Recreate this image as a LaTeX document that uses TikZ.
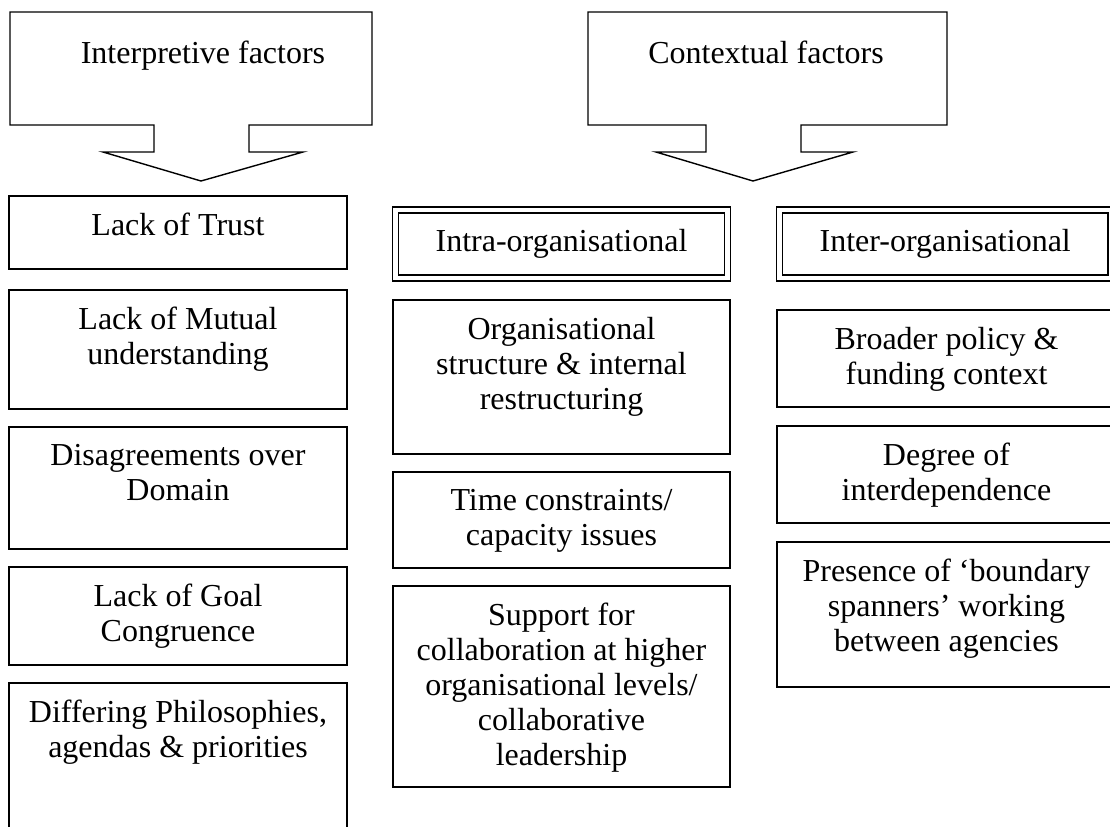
\documentclass[tikz,border=0pt]{standalone}
\usepackage{fontspec}
\setmainfont{Liberation Serif}
\usetikzlibrary{positioning,fit}

\begin{document}
\begin{tikzpicture}[
    x=0.5pt, y=-0.5pt,
    callout/.style={draw, line width=0.7pt, line join=miter},
    factor/.style={draw, line width=1.2pt, inner sep=0pt},
    level/.style={draw, line width=0.6pt, double, double distance=2.4pt, inner sep=0pt},
    boxtext/.style={align=center, inner sep=0pt, font=\fontsize{16}{17.5}\selectfont}
]
\useasboundingbox (0,0) rectangle (1110,826);
\clip (0,0) rectangle (1110,826);

% block arrows at the top
\draw[callout] (10,12) -- (372,12) -- (372,125) -- (249,125) -- (249,152) -- (303,152)
    -- (201,181) -- (103,152) -- (154,152) -- (154,125) -- (10,125) -- cycle;
\draw[callout] (588,12) -- (947,12) -- (947,125) -- (801,125) -- (801,152) -- (853,152)
    -- (753,181) -- (656,152) -- (706,152) -- (706,125) -- (588,125) -- cycle;
\node[boxtext, anchor=base] (interp) at (203,63) {Interpretive factors};
\node[boxtext, anchor=base] (context) at (766,63) {Contextual factors};

% interpretive column
\node[factor, fit={(9,196) (347,269)}] (trust) {};
\node[factor, fit={(9,290) (347,409)}] (mutual) {};
\node[factor, fit={(9,427) (347,549)}] (domain) {};
\node[factor, fit={(9,567) (347,665)}] (goal) {};
\node[factor, fit={(9,683) (347,870)}] (philo) {};

\node[boxtext, below=9pt of trust.north] (trusttxt) {Lack of Trust};
\node[boxtext, below=9pt of mutual.north] (mutualtxt) {Lack of Mutual\\understanding};
\node[boxtext, below=9pt of domain.north] (domaintxt) {Disagreements over\\Domain};
\node[boxtext, below=9pt of goal.north] (goaltxt) {Lack of Goal\\Congruence};
\node[boxtext, below=9pt of philo.north] (philotxt) {Differing Philosophies,\\agendas \& priorities};

% contextual: intra-organisational
\node[level, fit={(395.5,210) (727.5,278)}] (intra) {};
\node[boxtext] at (intra) {Intra-organisational};
\node[factor, fit={(393,300) (730,454)}] (struct) {};
\node[factor, fit={(393,472) (730,568)}] (time) {};
\node[factor, fit={(393,586) (730,787)}] (support) {};

\node[boxtext, below=9pt of struct.north] (structtxt) {Organisational\\structure \& internal\\restructuring};
\node[boxtext, below=9pt of time.north] (timetxt) {Time constraints/\\capacity issues};
\node[boxtext, below=9pt of support.north] (supporttxt) {Support for\\collaboration at higher\\organisational levels/\\collaborative\\leadership};

% contextual: inter-organisational
\node[level, fit={(779.5,210) (1111,278)}] (inter) {};
\node[boxtext] at (inter) {Inter-organisational};
\node[factor, fit={(777,310) (1116,407)}] (policy) {};
\node[factor, fit={(777,426) (1116,523)}] (interdep) {};
\node[factor, fit={(777,542) (1116,687)}] (spanners) {};

\node[boxtext, below=9pt of policy.north] (policytxt) {Broader policy \&\\funding context};
\node[boxtext, below=9pt of interdep.north] (interdeptxt) {Degree of\\interdependence};
\node[boxtext, below=9pt of spanners.north] (spannerstxt) {Presence of ‘boundary\\spanners’ working\\between agencies};

\end{tikzpicture}
\end{document}
